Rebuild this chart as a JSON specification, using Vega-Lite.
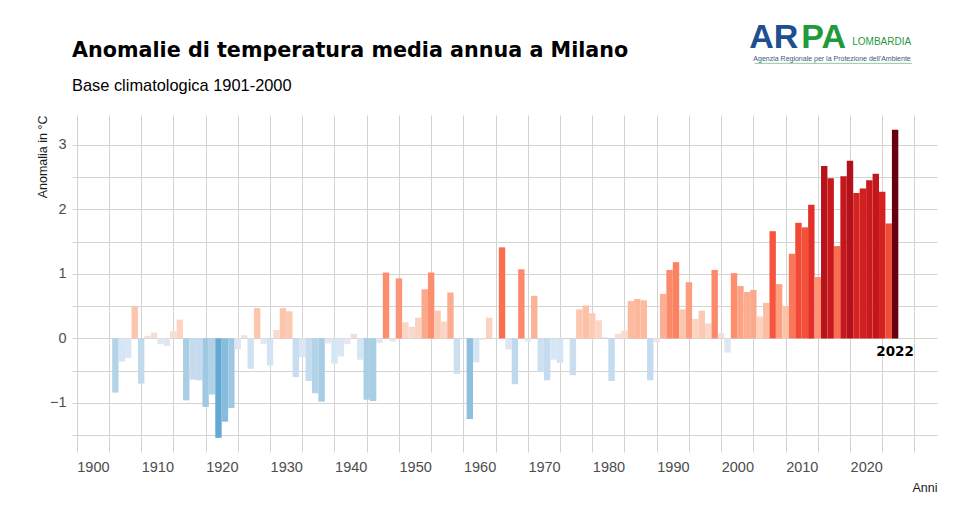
{
  "$schema": "https://vega.github.io/schema/vega-lite/v6.json",
  "width": 865,
  "height": 337,
  "autosize": "none",
  "padding": {"left": 72, "top": 115, "right": 41, "bottom": 79},
  "background": "white",
  "title": {
    "text": "Anomalie di temperatura media annua a Milano",
    "subtitle": "Base climatologica 1901-2000",
    "anchor": "start",
    "frame": "group",
    "font": "DejaVu Sans",
    "fontSize": 20.7,
    "fontWeight": "bold",
    "color": "#000000",
    "subtitleFont": "Liberation Sans",
    "subtitleFontSize": 16.4,
    "subtitleColor": "#000000",
    "subtitlePadding": 16.5,
    "offset": 22,
    "dy": 97
  },
  "config": {
    "view": {"stroke": null},
    "axis": {
      "domain": false,
      "ticks": false,
      "gridColor": "#d3d3d3",
      "gridWidth": 1,
      "minExtent": 0,
      "labelFont": "Liberation Sans",
      "labelFontSize": 14.5,
      "labelColor": "#4d4d4d",
      "titleFont": "Liberation Sans",
      "titleFontSize": 12.5,
      "titleFontWeight": "normal",
      "titleColor": "#1a1a1a"
    }
  },
  "resolve": {"axis": {"x": "independent", "y": "independent"}},
  "data": {
    "values": [
      {"anno": 1901, "anomalia": -0.84}, {"anno": 1902, "anomalia": -0.36}, {"anno": 1903, "anomalia": -0.30},
      {"anno": 1904, "anomalia": 0.49}, {"anno": 1905, "anomalia": -0.70}, {"anno": 1906, "anomalia": 0.04},
      {"anno": 1907, "anomalia": 0.09}, {"anno": 1908, "anomalia": -0.09}, {"anno": 1909, "anomalia": -0.12},
      {"anno": 1910, "anomalia": 0.11}, {"anno": 1911, "anomalia": 0.29}, {"anno": 1912, "anomalia": -0.96},
      {"anno": 1913, "anomalia": -0.64}, {"anno": 1914, "anomalia": -0.65}, {"anno": 1915, "anomalia": -1.06},
      {"anno": 1916, "anomalia": -0.87}, {"anno": 1917, "anomalia": -1.54}, {"anno": 1918, "anomalia": -1.29},
      {"anno": 1919, "anomalia": -1.08}, {"anno": 1920, "anomalia": -0.17}, {"anno": 1921, "anomalia": 0.05},
      {"anno": 1922, "anomalia": -0.47}, {"anno": 1923, "anomalia": 0.47}, {"anno": 1924, "anomalia": -0.09},
      {"anno": 1925, "anomalia": -0.42}, {"anno": 1926, "anomalia": 0.13}, {"anno": 1927, "anomalia": 0.47},
      {"anno": 1928, "anomalia": 0.42}, {"anno": 1929, "anomalia": -0.60}, {"anno": 1930, "anomalia": -0.29},
      {"anno": 1931, "anomalia": -0.66}, {"anno": 1932, "anomalia": -0.85}, {"anno": 1933, "anomalia": -0.98},
      {"anno": 1934, "anomalia": -0.08}, {"anno": 1935, "anomalia": -0.39}, {"anno": 1936, "anomalia": -0.28},
      {"anno": 1937, "anomalia": -0.09}, {"anno": 1938, "anomalia": 0.07}, {"anno": 1939, "anomalia": -0.33},
      {"anno": 1940, "anomalia": -0.95}, {"anno": 1941, "anomalia": -0.97}, {"anno": 1942, "anomalia": -0.07},
      {"anno": 1943, "anomalia": 1.02}, {"anno": 1944, "anomalia": -0.05}, {"anno": 1945, "anomalia": 0.93},
      {"anno": 1946, "anomalia": 0.25}, {"anno": 1947, "anomalia": 0.18}, {"anno": 1948, "anomalia": 0.32},
      {"anno": 1949, "anomalia": 0.76}, {"anno": 1950, "anomalia": 1.02}, {"anno": 1951, "anomalia": 0.43},
      {"anno": 1952, "anomalia": 0.26}, {"anno": 1953, "anomalia": 0.71}, {"anno": 1954, "anomalia": -0.55},
      {"anno": 1955, "anomalia": 0.01}, {"anno": 1956, "anomalia": -1.25}, {"anno": 1957, "anomalia": -0.37},
      {"anno": 1958, "anomalia": -0.02}, {"anno": 1959, "anomalia": 0.32}, {"anno": 1960, "anomalia": 0.01},
      {"anno": 1961, "anomalia": 1.41}, {"anno": 1962, "anomalia": -0.17}, {"anno": 1963, "anomalia": -0.71},
      {"anno": 1964, "anomalia": 1.07}, {"anno": 1965, "anomalia": -0.05}, {"anno": 1966, "anomalia": 0.66},
      {"anno": 1967, "anomalia": -0.52}, {"anno": 1968, "anomalia": -0.65}, {"anno": 1969, "anomalia": -0.33},
      {"anno": 1970, "anomalia": -0.38}, {"anno": 1971, "anomalia": 0.0}, {"anno": 1972, "anomalia": -0.57},
      {"anno": 1973, "anomalia": 0.45}, {"anno": 1974, "anomalia": 0.51}, {"anno": 1975, "anomalia": 0.39},
      {"anno": 1976, "anomalia": 0.28}, {"anno": 1977, "anomalia": 0.02}, {"anno": 1978, "anomalia": -0.66},
      {"anno": 1979, "anomalia": 0.07}, {"anno": 1980, "anomalia": 0.12}, {"anno": 1981, "anomalia": 0.58},
      {"anno": 1982, "anomalia": 0.61}, {"anno": 1983, "anomalia": 0.59}, {"anno": 1984, "anomalia": -0.65},
      {"anno": 1985, "anomalia": -0.06}, {"anno": 1986, "anomalia": 0.69}, {"anno": 1987, "anomalia": 1.06},
      {"anno": 1988, "anomalia": 1.18}, {"anno": 1989, "anomalia": 0.45}, {"anno": 1990, "anomalia": 0.87},
      {"anno": 1991, "anomalia": 0.30}, {"anno": 1992, "anomalia": 0.43}, {"anno": 1993, "anomalia": 0.23},
      {"anno": 1994, "anomalia": 1.06}, {"anno": 1995, "anomalia": 0.08}, {"anno": 1996, "anomalia": -0.22},
      {"anno": 1997, "anomalia": 1.01}, {"anno": 1998, "anomalia": 0.81}, {"anno": 1999, "anomalia": 0.72},
      {"anno": 2000, "anomalia": 0.75}, {"anno": 2001, "anomalia": 0.34}, {"anno": 2002, "anomalia": 0.55},
      {"anno": 2003, "anomalia": 1.66}, {"anno": 2004, "anomalia": 0.84}, {"anno": 2005, "anomalia": 0.50},
      {"anno": 2006, "anomalia": 1.31}, {"anno": 2007, "anomalia": 1.79}, {"anno": 2008, "anomalia": 1.72},
      {"anno": 2009, "anomalia": 2.07}, {"anno": 2010, "anomalia": 0.95}, {"anno": 2011, "anomalia": 2.67},
      {"anno": 2012, "anomalia": 2.48}, {"anno": 2013, "anomalia": 1.43}, {"anno": 2014, "anomalia": 2.51},
      {"anno": 2015, "anomalia": 2.75}, {"anno": 2016, "anomalia": 2.25}, {"anno": 2017, "anomalia": 2.32},
      {"anno": 2018, "anomalia": 2.45}, {"anno": 2019, "anomalia": 2.55}, {"anno": 2020, "anomalia": 2.27},
      {"anno": 2021, "anomalia": 1.78}, {"anno": 2022, "anomalia": 3.23}
    ]
  },
  "layer": [
    {
      "mark": {"type": "bar", "width": 6.4},
      "encoding": {
        "x": {
          "field": "anno",
          "type": "quantitative",
          "scale": {"domain": [1894.27, 2028.5], "nice": false, "zero": false, "padding": 0},
          "axis": {
            "orient": "bottom",
            "title": null,
            "grid": true,
            "labels": false,
            "values": [1895, 1900, 1905, 1910, 1915, 1920, 1925, 1930, 1935, 1940, 1945, 1950, 1955, 1960, 1965, 1970, 1975, 1980, 1985, 1990, 1995, 2000, 2005, 2010, 2015, 2020, 2025]
          }
        },
        "y": {
          "field": "anomalia",
          "type": "quantitative",
          "scale": {"domain": [-1.76, 3.46], "nice": false, "zero": false},
          "axis": {
            "orient": "left",
            "title": null,
            "grid": true,
            "labels": false,
            "values": [-1.5, -1, -0.5, 0, 0.5, 1, 1.5, 2, 2.5, 3]
          }
        },
        "color": {
          "field": "anomalia",
          "type": "quantitative",
          "legend": null,
          "scale": {
            "domain": [-1.55, -1.25, -0.96, -0.65, -0.35, -0.1, 0, 0.1, 0.3, 0.5, 0.75, 1.0, 1.4, 1.7, 2.07, 2.3, 2.55, 2.75, 3.23],
            "range": ["#62a8d3", "#8cc0de", "#a9cee4", "#c6dbef", "#d6e6f4", "#e4e6f0", "#ebe4e8", "#f5ddd4", "#fdd4c2", "#fcc3a9", "#fca98b", "#fc8f6f", "#fb7050", "#f5523a", "#e32f27", "#d32020", "#c3161b", "#b0111a", "#67000d"],
            "interpolate": "rgb"
          }
        }
      }
    },
    {
      "transform": [{"filter": "datum.anno == 2022"}],
      "mark": {"type": "text", "font": "DejaVu Sans", "fontWeight": "bold", "fontSize": 13.5, "color": "#000000", "baseline": "alphabetic", "align": "center", "dy": 18},
      "encoding": {
        "x": {
          "field": "anno",
          "type": "quantitative",
          "axis": {
            "orient": "bottom",
            "grid": false,
            "values": [1900, 1910, 1920, 1930, 1940, 1950, 1960, 1970, 1980, 1990, 2000, 2010, 2020],
            "format": "d",
            "labelOffset": -16,
            "labelPadding": 8,
            "labelOverlap": false,
            "labelFlush": false,
            "title": "Anni",
            "titleAnchor": "end",
            "titlePadding": 8
          }
        },
        "y": {
          "datum": 0,
          "type": "quantitative",
          "axis": {
            "orient": "left",
            "grid": false,
            "values": [-1, 0, 1, 2, 3],
            "format": "d",
            "labelPadding": 6,
            "title": "Anomalia in °C",
            "titleAnchor": "end",
            "titlePadding": 0
          }
        },
        "text": {"field": "anno", "type": "nominal"}
      }
    },
    {
      "data": {"values": [{"t": "AR"}]},
      "mark": {"type": "text", "font": "Liberation Sans", "fontWeight": "bold", "fontSize": 34, "color": "#1d4f91", "align": "right", "baseline": "alphabetic"},
      "encoding": {"x": {"datum": 2006.98, "axis": null}, "y": {"datum": 4.5, "axis": null}, "text": {"field": "t"}}
    },
    {
      "data": {"values": [{"t": "PA"}]},
      "mark": {"type": "text", "font": "Liberation Sans", "fontWeight": "bold", "fontSize": 34, "color": "#1f9b3b", "align": "left", "baseline": "alphabetic"},
      "encoding": {"x": {"datum": 2007.45, "axis": null}, "y": {"datum": 4.5, "axis": null}, "text": {"field": "t"}}
    },
    {
      "data": {"values": [{"t": "LOMBARDIA"}]},
      "mark": {"type": "text", "font": "Liberation Sans", "fontSize": 10, "color": "#1f9b3b", "align": "left", "baseline": "alphabetic"},
      "encoding": {"x": {"datum": 2015.35, "axis": null}, "y": {"datum": 4.547, "axis": null}, "text": {"field": "t"}}
    },
    {
      "data": {"values": [{"t": "Agenzia Regionale per la Protezione dell'Ambiente"}]},
      "mark": {"type": "text", "font": "Liberation Sans", "fontSize": 7, "color": "#3b5a80", "align": "left", "baseline": "alphabetic"},
      "encoding": {"x": {"datum": 2000.0, "axis": null}, "y": {"datum": 4.3, "axis": null}, "text": {"field": "t"}}
    },
    {
      "data": {"values": [{"t": "linea"}]},
      "mark": {"type": "rule", "color": "#8fcc9c", "strokeWidth": 1},
      "encoding": {"x": {"datum": 2000.2, "axis": null}, "x2": {"datum": 2024.6}, "y": {"datum": 4.26, "axis": null}}
    }
  ]
}
